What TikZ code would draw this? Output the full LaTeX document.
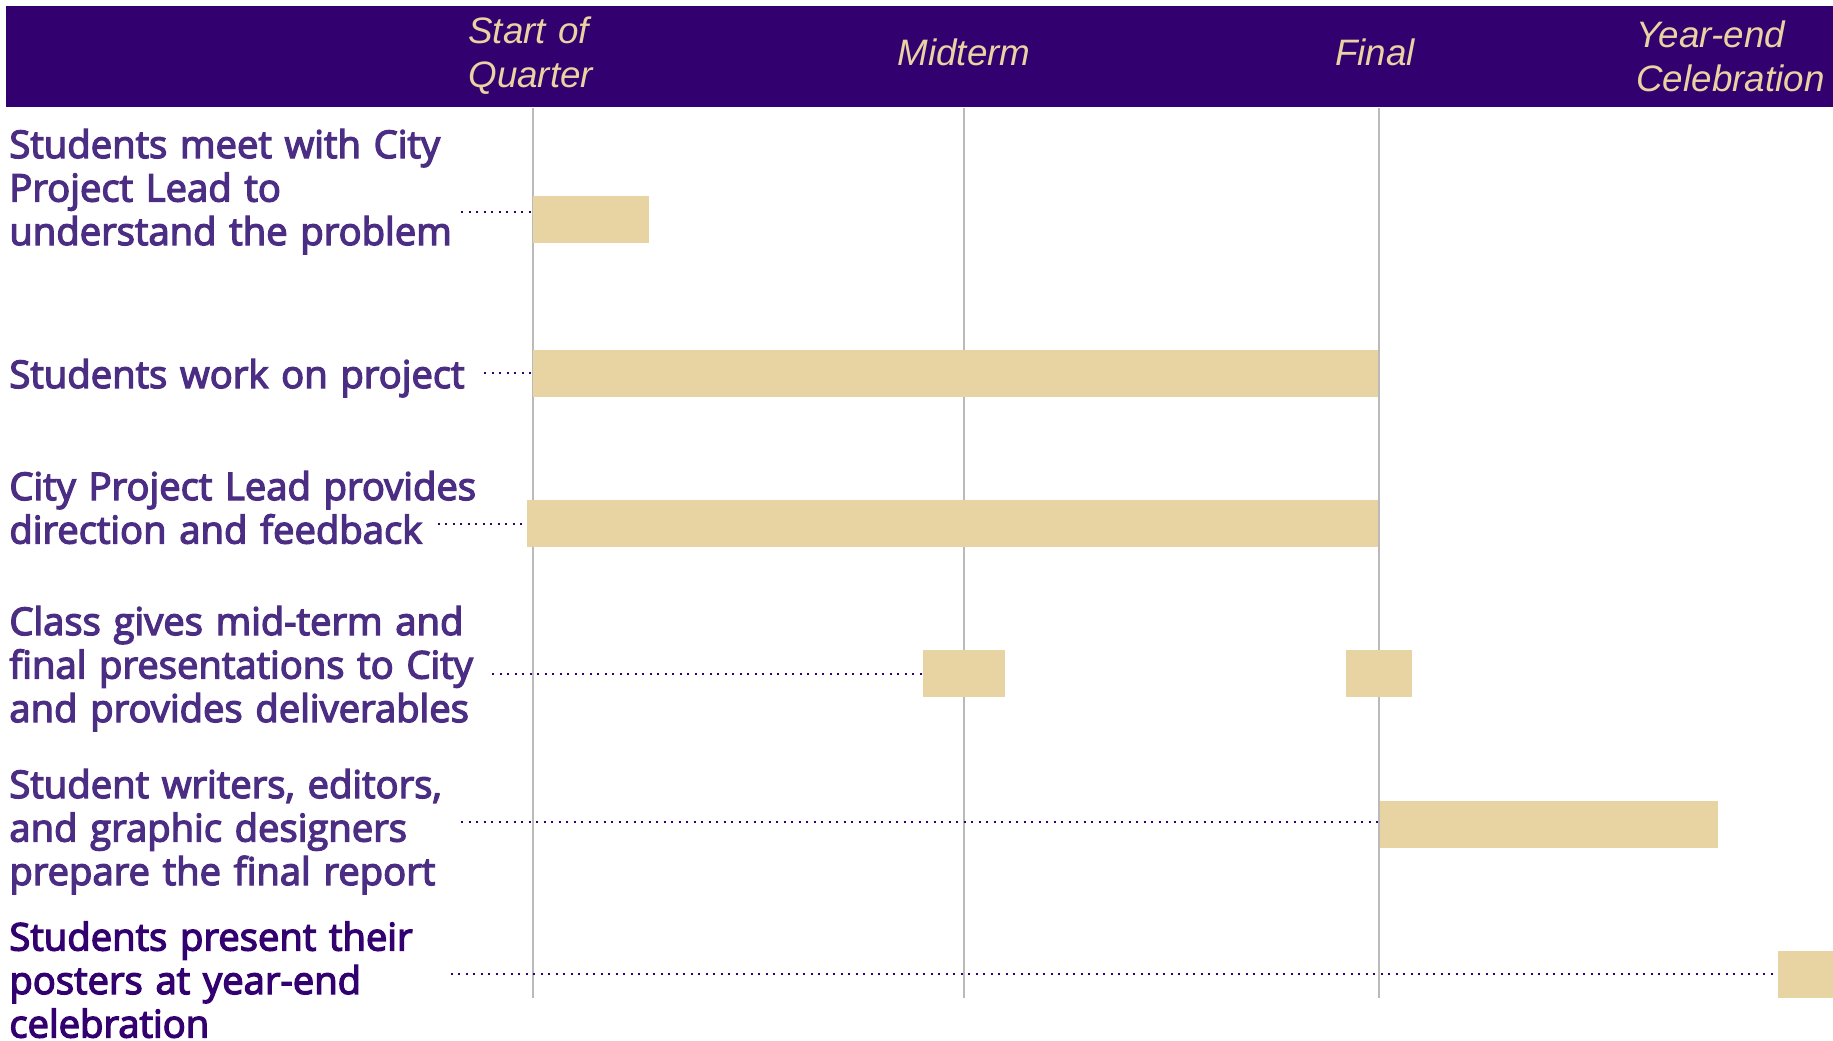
\documentclass[tikz,border=0pt]{standalone}
\usepackage{fontspec}
\newfontfamily\labelfont{Open Sans}[FakeBold=3.5]
\newfontfamily\headfont{Liberation Sans}
\definecolor{uwpurple}{HTML}{33006F}
\definecolor{uwlabel}{HTML}{4B2E83}
\definecolor{uwgold}{HTML}{E8D3A2}
\definecolor{gridgrey}{HTML}{BABABA}

\begin{document}
\begin{tikzpicture}[x=0.5pt,y=-0.5pt,
    task/.style={
% The shape:
rectangle, inner sep=0pt, anchor=base west,
% The size:
text width=270pt,
% The text:
align=left, text=uwlabel,
font=\labelfont\fontsize{19.1}{21.75}\selectfont,
},
    milestone/.style={
% The shape:
rectangle, inner sep=0pt, anchor=base,
% The text:
text=uwgold,
font=\headfont\itshape\fontsize{18.4}{22}\selectfont,
},
    taskbar/.style={
% The shape:
rectangle, inner sep=0pt, anchor=west,
% The size:
minimum height=23.35pt,
% The fill:
fill=uwgold,
},
    leader/.style={uwpurple, line width=1pt, dash pattern=on 1pt off 2.75pt},
    gridline/.style={gridgrey, line width=1pt},
]
  \useasboundingbox (0,0) rectangle (1833,1040);

  % header band
  \fill[uwpurple] (6,6) rectangle (1833,107);
  \draw[gridline] (533,108) -- (533,998);
  \draw[gridline] (964,108) -- (964,998);
  \draw[gridline] (1379,108) -- (1379,998);

  \node[milestone, anchor=base west, text width=80pt, align=left]
    (start) at (468,43) {Start of\\Quarter};
  \node[milestone]                      (mid) at (964,65) {Midterm};
  \node[milestone]                      (final) at (1375,65) {Final};
  \node[milestone, anchor=base west, text width=100pt, align=left]
    (yearend) at (1636,47) {Year-end\\Celebration};

  % tasks
  \node[task] (meet) at (9,158)
    {Students meet with City\\Project Lead to\\understand the problem};
  \node[task] (work) at (9,388) {Students work on project};
  \node[task] (lead) at (9,500)
    {City Project Lead provides\\direction and feedback};
  \node[task] (present) at (9,635)
    {Class gives mid-term and\\final presentations to City\\and provides deliverables};
  \node[task] (report) at (9,798)
    {Student writers, editors,\\and graphic designers\\prepare the final report};
  \node[task, text=uwpurple] (poster) at (9,950.5)
    {Students present their\\posters at year-end\\celebration};

  \node[taskbar, minimum width=58pt]    (b-meet) at (533,219.3) {};
  \node[taskbar, minimum width=422.5pt] (b-work) at (533,373.3) {};
  \node[taskbar, minimum width=425.5pt] (b-lead) at (527,523.3) {};
  \node[taskbar, minimum width=40.85pt] (b-mid) at (923,673.3) {};
  \node[taskbar, minimum width=32.85pt] (b-final) at (1346,673.3) {};
  \node[taskbar, minimum width=169.2pt] (b-report) at (1379.6,824.3) {};
  \node[taskbar, minimum width=27.5pt]  (b-poster) at (1778,974.3) {};

  \coordinate (l-meet) at (461,212);
  \coordinate (l-work) at (484,372.7);
  \coordinate (l-lead) at (437.5,524);
  \coordinate (l-present) at (492,673.7);
  \coordinate (l-report) at (461,822);
  \coordinate (l-poster) at (450.6,974.3);

  \draw[leader] (l-meet) -- (l-meet -| b-meet.west);
  \draw[leader] (l-work) -- (l-work -| b-work.west);
  \draw[leader] (l-lead) -- (l-lead -| b-lead.west);
  \draw[leader] (l-present) -- (l-present -| b-mid.west);
  \draw[leader] (l-report) -- (l-report -| b-report.west);
  \draw[leader] (l-poster) -- (l-poster -| b-poster.west);

\end{tikzpicture}
\end{document}
